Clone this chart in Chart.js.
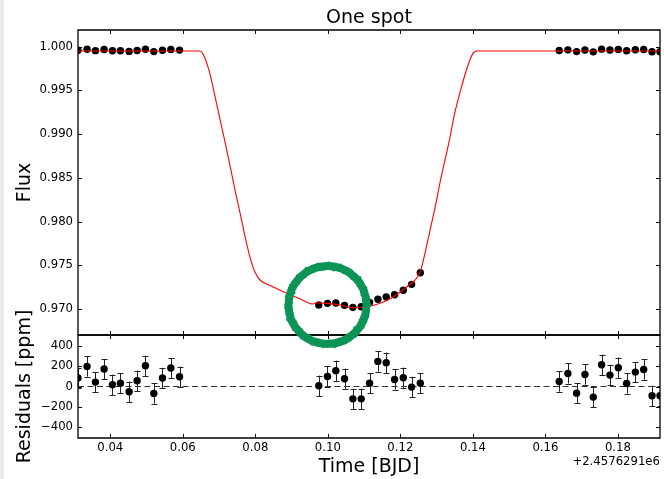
<!DOCTYPE html>
<html>
<head>
<meta charset="utf-8">
<title>One spot</title>
<script src="https://cdn.jsdelivr.net/npm/chart.js@4/dist/chart.umd.min.js"></script>
<style>
  html, body { margin: 0; padding: 0; background: #fff; }
  #wrap { position: relative; width: 664px; height: 479px; }
  canvas { display: block; }
</style>
</head>
<body>
<div id="wrap"><canvas id="c" width="664" height="479"></canvas></div>
<script>
// Observation times (BJD - 2457629.1)
const times = [
  0.0311, 0.0336, 0.0359, 0.0383, 0.0406, 0.0428, 0.0452, 0.0474, 0.0497, 0.0520, 0.0544, 0.0567, 0.0591,
  0.0975, 0.0999, 0.1022, 0.1046, 0.1069, 0.1092, 0.1115, 0.1138, 0.1161, 0.1184, 0.1208, 0.1231, 0.1255,
  0.1638, 0.1662, 0.1686, 0.1709, 0.1732, 0.1755, 0.1778, 0.1801, 0.1824, 0.1848, 0.1871, 0.1894, 0.1916
];
// Normalised flux
const flux = [
  0.99959, 0.99971, 0.99955, 0.99968, 0.99953, 0.99954, 0.99946, 0.99957, 0.99971, 0.99944, 0.99959, 0.99969, 0.99961,
  0.97046, 0.97065, 0.97069, 0.97042, 0.97019, 0.97026, 0.97075, 0.97111, 0.97137, 0.97163, 0.97214, 0.97282, 0.97415,
  0.99956, 0.99964, 0.99944, 0.99963, 0.99941, 0.99972, 0.99962, 0.99969, 0.99954, 0.99965, 0.99968, 0.99942, 0.99942
];
// Residuals (ppm)
const residuals = [
  83, 197, 43, 171, 17, 33, -52, 56, 203, -69, 83, 181, 95,
  7, 98, 154, 76, -121, -121, 33, 246, 233, 69, 86, -6, 33,
  49, 128, -65, 118, -104, 213, 112, 184, 29, 141, 167, -91, -91
];
// 1-sigma uncertainty of each residual (ppm)
const resErr = 100;

// Spot-crossing transit model
const modelTime = [
  0.0311, 0.0648, 0.0655, 0.0662, 0.0669, 0.0676, 0.0689, 0.0703, 0.0717, 0.0731, 0.0744, 0.0758, 0.0772,
  0.0786, 0.0799, 0.0813, 0.0841, 0.0882, 0.0924, 0.0959, 0.0968, 0.0997, 0.1034, 0.1070, 0.1107, 0.1144,
  0.1181, 0.1218, 0.1254, 0.1268, 0.1282, 0.1296, 0.1309, 0.1323, 0.1337, 0.1350, 0.1364, 0.1378, 0.1392,
  0.1399, 0.1405, 0.1412, 0.1916
];
const modelFlux = [
  0.99951, 0.99951, 0.99921, 0.99860, 0.99775, 0.99672, 0.99428, 0.99162, 0.98899, 0.98624, 0.98361, 0.98098, 0.97823,
  0.97583, 0.97423, 0.97332, 0.97269, 0.97189, 0.97114, 0.97057, 0.97072, 0.97065, 0.97046, 0.97015, 0.97026, 0.97065,
  0.97141, 0.97255, 0.97420, 0.97640, 0.97903, 0.98167, 0.98441, 0.98703, 0.98967, 0.99242, 0.99470, 0.99676, 0.99850,
  0.99915, 0.99943, 0.99951, 0.99951
];

// Axis ticks
const timeTicks = [0.04, 0.06, 0.08, 0.10, 0.12, 0.14, 0.16, 0.18];
const fluxTicks = [0.970, 0.975, 0.980, 0.985, 0.990, 0.995, 1.000];
const residTicks = [-400, -200, 0, 200, 400];
const timeOffsetLabel = '+2.4576291e6';

// Highlighted spot crossing (data coordinates of the centre)
const spotMark = { t: 0.0999, flux: 0.97046 };

const FONT = '"DejaVu Sans", sans-serif';
const TICK_FONT = { family: FONT, size: 11.7 };
const TITLE_FONT = { family: FONT, size: 19 };
const TICK_LEN = 4;

const pts = (xs, ys) => xs.map((x, i) => ({ x, y: ys[i] }));
const setTicks = list => s => { s.ticks = list.map(v => ({ value: v })); };
const noGrid = { display: false, drawTicks: false, tickLength: 0 };

const panelFrame = {
  id: 'panelFrame',
  beforeDraw(chart) {
    const { ctx, width, height } = chart;
    ctx.save();
    ctx.fillStyle = '#ffffff';
    ctx.fillRect(0, 0, width, height);
    ctx.fillStyle = '#e9e9e9';
    ctx.fillRect(0, 0, 4, height);
    ctx.restore();
  },
  beforeDatasetsDraw(chart) {
    // error bars on the residuals
    const { ctx, chartArea: a } = chart;
    const xs = chart.scales.x, ys = chart.scales.yRes;
    ctx.save();
    ctx.beginPath();
    ctx.rect(a.left, a.top, a.width, a.height);
    ctx.clip();
    ctx.strokeStyle = '#222';
    ctx.lineWidth = 1;
    times.forEach((t, i) => {
      const px = Math.round(xs.getPixelForValue(t)) + 0.5;
      const y0 = ys.getPixelForValue(residuals[i] - resErr);
      const y1 = ys.getPixelForValue(residuals[i] + resErr);
      ctx.beginPath();
      ctx.moveTo(px, y0); ctx.lineTo(px, y1);
      ctx.moveTo(px - 3, Math.round(y0) + 0.5); ctx.lineTo(px + 3, Math.round(y0) + 0.5);
      ctx.moveTo(px - 3, Math.round(y1) + 0.5); ctx.lineTo(px + 3, Math.round(y1) + 0.5);
      ctx.stroke();
    });
    ctx.restore();
  },
  afterDatasetsDraw(chart) {
    // axes frames with inward ticks for both panels
    const { ctx } = chart;
    const xs = chart.scales.x;
    const L = xs.left, R = xs.right;
    ctx.save();
    ctx.strokeStyle = '#000';
    ctx.lineWidth = 1.3;
    [[chart.scales.yFlux, fluxTicks], [chart.scales.yRes, residTicks]].forEach(([ys, list]) => {
      const T = ys.top, B = ys.bottom;
      ctx.beginPath();
      ctx.rect(L, T, R - L, B - T);
      ctx.stroke();
      ctx.beginPath();
      ctx.lineWidth = 1;
      timeTicks.forEach(v => {
        const px = Math.round(xs.getPixelForValue(v)) + 0.5;
        ctx.moveTo(px, T); ctx.lineTo(px, T + TICK_LEN);
        ctx.moveTo(px, B); ctx.lineTo(px, B - TICK_LEN);
      });
      list.forEach(v => {
        const py = Math.round(ys.getPixelForValue(v)) + 0.5;
        ctx.moveTo(L, py); ctx.lineTo(L + TICK_LEN, py);
        ctx.moveTo(R, py); ctx.lineTo(R - TICK_LEN, py);
      });
      ctx.stroke();
      ctx.lineWidth = 1.3;
    });
    // offset of the time axis
    ctx.fillStyle = '#000';
    ctx.font = `${TICK_FONT.size}px ${FONT}`;
    ctx.textAlign = 'right';
    ctx.textBaseline = 'middle';
    ctx.fillText(timeOffsetLabel, xs.right, xs.top + 24);
    ctx.restore();
  },
  afterDraw(chart) {
    // green ring around the spot-crossing event
    const { ctx } = chart;
    const cx = chart.scales.x.getPixelForValue(spotMark.t);
    const cy = chart.scales.yFlux.getPixelForValue(spotMark.flux);
    const r = 39;
    ctx.save();
    ctx.strokeStyle = '#0b9456';
    ctx.fillStyle = '#0b9456';
    ctx.lineWidth = 8;
    ctx.beginPath();
    ctx.arc(cx, cy, r, 0, Math.PI * 2);
    ctx.stroke();
    const n = 90;
    for (let i = 0; i < n; i++) {
      const ang = (i / n) * Math.PI * 2;
      const off = (i % 4 === 0) ? 3.2 : (i % 4 === 2 ? -3.2 : (i % 3 === 0 ? 2.4 : -2.4));
      const rr = (i % 5 === 0) ? 1.8 : 1.3;
      ctx.beginPath();
      ctx.arc(cx + Math.cos(ang) * (r + off), cy + Math.sin(ang) * (r + off), rr, 0, Math.PI * 2);
      ctx.fill();
    }
    ctx.restore();
  }
};

new Chart(document.getElementById('c'), {
  data: {
    datasets: [
      {
        type: 'line', label: 'model', yAxisID: 'yFlux', order: 0,
        data: pts(modelTime, modelFlux),
        borderColor: '#ff0000', borderWidth: 1.1, pointRadius: 0,
        cubicInterpolationMode: 'monotone', clip: 0
      },
      {
        type: 'scatter', label: 'flux', yAxisID: 'yFlux', order: 1,
        data: pts(times, flux),
        backgroundColor: '#000', borderWidth: 0, pointRadius: 3.7, clip: 0
      },
      {
        type: 'scatter', label: 'residuals', yAxisID: 'yRes', order: 1,
        data: pts(times, residuals),
        backgroundColor: '#000', borderWidth: 0, pointRadius: 3.7, clip: 0
      },
      {
        type: 'line', label: 'zero', yAxisID: 'yRes', order: 5,
        data: [{ x: times[0], y: 0 }, { x: times[times.length - 1], y: 0 }],
        borderColor: '#333', borderWidth: 1, borderDash: [6, 3.5], pointRadius: 0, clip: 0
      }
    ]
  },
  options: {
    responsive: false,
    animation: false,
    events: [],
    layout: { padding: { left: 0, right: 3, top: 0, bottom: 0 } },
    plugins: {
      legend: { display: false },
      tooltip: { enabled: false },
      title: {
        display: true, text: 'One spot', fullSize: false,
        color: '#000', font: { family: FONT, size: 19, weight: 'normal', lineHeight: 1 },
        padding: { top: 9, bottom: 2 }
      }
    },
    scales: {
      x: {
        type: 'linear', position: 'bottom',
        min: times[0], max: times[times.length - 1],
        grid: noGrid, border: { display: false },
        afterBuildTicks: setTicks(timeTicks),
        afterFit: s => { s.height = 41; },
        ticks: { color: '#000', font: TICK_FONT, padding: 2.5, maxRotation: 0, autoSkip: false, callback: v => v.toFixed(2) },
        title: { display: true, text: 'Time [BJD]', color: '#000', font: TITLE_FONT, padding: { top: 0, bottom: 1 } }
      },
      yRes: {
        type: 'linear', position: 'left', stack: 'panels', stackWeight: 103, weight: 0,
        min: -505, max: 505,
        grid: noGrid, border: { display: false },
        afterBuildTicks: setTicks(residTicks),
        afterFit: s => { s.width = 78; },
        ticks: { color: '#000', font: TICK_FONT, padding: 5, autoSkip: false, callback: v => (v < 0 ? '\u2212' + Math.abs(v) : String(v)) },
        title: { display: true, text: 'Residuals [ppm]', color: '#000', font: TITLE_FONT, padding: { top: 14, bottom: 0 } }
      },
      yFlux: {
        type: 'linear', position: 'left', stack: 'panels', stackWeight: 305, weight: 1,
        min: 0.96703, max: 1.00191,
        grid: noGrid, border: { display: false },
        afterBuildTicks: setTicks(fluxTicks),
        afterFit: s => { s.width = 78; },
        ticks: { color: '#000', font: TICK_FONT, padding: 5, autoSkip: false, callback: v => v.toFixed(3) },
        title: { display: true, text: 'Flux', color: '#000', font: TITLE_FONT, padding: { top: 14, bottom: 0 } }
      }
    }
  },
  plugins: [panelFrame]
});
</script>
</body>
</html>
